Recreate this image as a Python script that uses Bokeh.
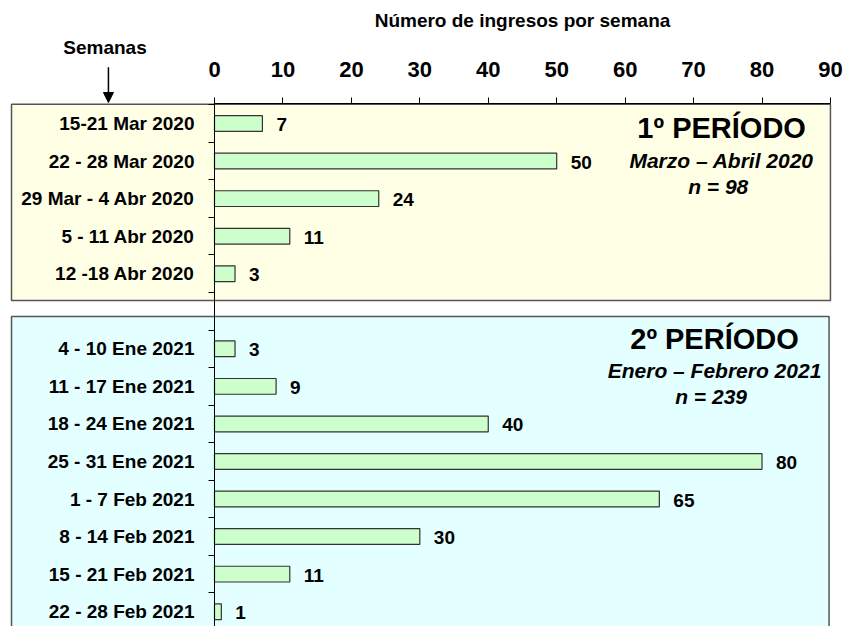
from bokeh.plotting import figure
from bokeh.models import Range1d, LinearAxis, FixedTicker, Label, Arrow, NormalHead, ColumnDataSource
from bokeh.core.properties import value
from bokeh.embed import file_html
from bokeh.resources import INLINE

# ---- data ----
weeks_p1 = ["15-21 Mar 2020", "22 - 28 Mar 2020", "29 Mar - 4 Abr 2020",
            "5 - 11 Abr 2020", "12 -18 Abr 2020"]
counts_p1 = [7, 50, 24, 11, 3]
weeks_p2 = ["4 - 10 Ene 2021", "11 - 17 Ene 2021", "18 - 24 Ene 2021",
            "25 - 31 Ene 2021", "1 - 7 Feb 2021", "8 - 14 Feb 2021",
            "15 - 21 Feb 2021", "22 - 28 Feb 2021"]
counts_p2 = [3, 9, 40, 80, 65, 30, 11, 1]
x_ticks = [0, 10, 20, 30, 40, 50, 60, 70, 80, 90]
period_titles = ["1º PERÍODO", "2º PERÍODO"]
period_ranges = ["Marzo – Abril 2020", "Enero – Febrero 2021"]
period_n = ["n = 98", "n = 239"]

FONT = "Liberation Sans"

rows_p1 = list(range(len(weeks_p1)))
rows_p2 = [len(weeks_p1) + 1 + i for i in range(len(weeks_p2))]
rows = rows_p1 + rows_p2
labels = weeks_p1 + weeks_p2
counts = counts_p1 + counts_p2

src = ColumnDataSource(dict(y=rows, v=counts, t=[str(c) for c in counts]))

p = figure(width=845, height=626, output_backend="svg", toolbar_location=None,
           x_range=Range1d(-31.27, 92.2), y_range=Range1d(13.395, -3.276),
           x_axis_location=None, y_axis_location=None, min_border=0)
p.outline_line_color = None
p.xgrid.visible = False
p.ygrid.visible = False

# panels
p.quad(left=-29.66, right=90, top=rows_p1[0] - 0.51, bottom=rows_p1[-1] + 0.71,
       fill_color="#FFFFE6", line_color="#555555", line_width=1.5)
p.quad(left=-29.66, right=89.8, top=rows_p2[0] - 0.86, bottom=rows_p2[-1] + 1.5,
       fill_color="#E3FFFF", line_color="#555555", line_width=1.5)

# bars
p.hbar(y="y", left=0, right="v", height=0.42, source=src,
       fill_color="#CCFFCC", line_color="#333333", line_width=1.2)
p.text(x="v", y="y", text="t", source=src, x_offset=14, y_offset=1,
       text_align="left", text_baseline="middle",
       text_font=value(FONT), text_font_size="19px", text_font_style="bold",
       text_color="black")

# axes
xaxis = LinearAxis(fixed_location=-0.533, ticker=FixedTicker(ticks=x_ticks),
                   bounds=(0, 90), axis_label="Número de ingresos por semana")
xaxis.major_tick_out = 6
xaxis.major_tick_in = 0
xaxis.minor_tick_line_color = None
xaxis.axis_line_color = "black"
xaxis.major_tick_line_color = "black"
xaxis.major_label_text_font = FONT
xaxis.major_label_text_font_size = "22px"
xaxis.major_label_text_font_style = "bold"
xaxis.major_label_text_color = "black"
xaxis.major_label_standoff = 21
xaxis.axis_label_text_font = FONT
xaxis.axis_label_text_font_size = "19px"
xaxis.axis_label_text_font_style = "bold"
xaxis.axis_label_text_color = "black"
xaxis.axis_label_standoff = 28
p.add_layout(xaxis, "above")

boundaries = [r + 0.5 for r in range(-1, rows_p2[-1])]
yaxis = LinearAxis(fixed_location=0,
                   ticker=FixedTicker(ticks=rows, minor_ticks=boundaries),
                   bounds=(-0.533, 14))
yaxis.major_label_overrides = {r: l for r, l in zip(rows, labels)}
yaxis.major_tick_line_color = None
yaxis.major_tick_out = 0
yaxis.major_tick_in = 0
yaxis.minor_tick_out = 6
yaxis.minor_tick_in = 0
yaxis.minor_tick_line_color = "black"
yaxis.axis_line_color = "black"
yaxis.major_label_standoff = 14
yaxis.major_label_text_font = FONT
yaxis.major_label_text_font_size = "19px"
yaxis.major_label_text_font_style = "bold"
yaxis.major_label_text_color = "black"
p.add_layout(yaxis, "left")

# Semanas + arrow
p.add_layout(Label(x=-16.0, y=-2.02, text="Semanas", text_align="center",
                   text_baseline="middle", text_font=FONT, text_font_size="19px",
                   text_font_style="bold", text_color="black"))
p.add_layout(Arrow(x_start=-15.5, y_start=-1.5, x_end=-15.5, y_end=-0.56,
                   line_width=1.5, line_color="black",
                   end=NormalHead(size=10, fill_color="black", line_color="black")))

# period annotations
pos = [(74.1, 0.13, 0.985, 1.68), (73.06, 5.73, 6.58, 7.27)]
for (xc, y1, y2, y3), t1, t2, t3 in zip(pos, period_titles, period_ranges, period_n):
    p.add_layout(Label(x=xc, y=y1, text=t1, text_align="center", text_baseline="middle",
                       text_font=FONT, text_font_size="29px", text_font_style="bold",
                       text_color="black"))
    p.add_layout(Label(x=xc, y=y2, text=t2, text_align="center", text_baseline="middle",
                       text_font=FONT, text_font_size="21px", text_font_style="bold italic",
                       text_color="black"))
    p.add_layout(Label(x=xc - 0.5, y=y3, text=t3, text_align="center", text_baseline="middle",
                       text_font=FONT, text_font_size="21px", text_font_style="bold italic",
                       text_color="black"))

open("out.html", "w").write(file_html(p, INLINE))
